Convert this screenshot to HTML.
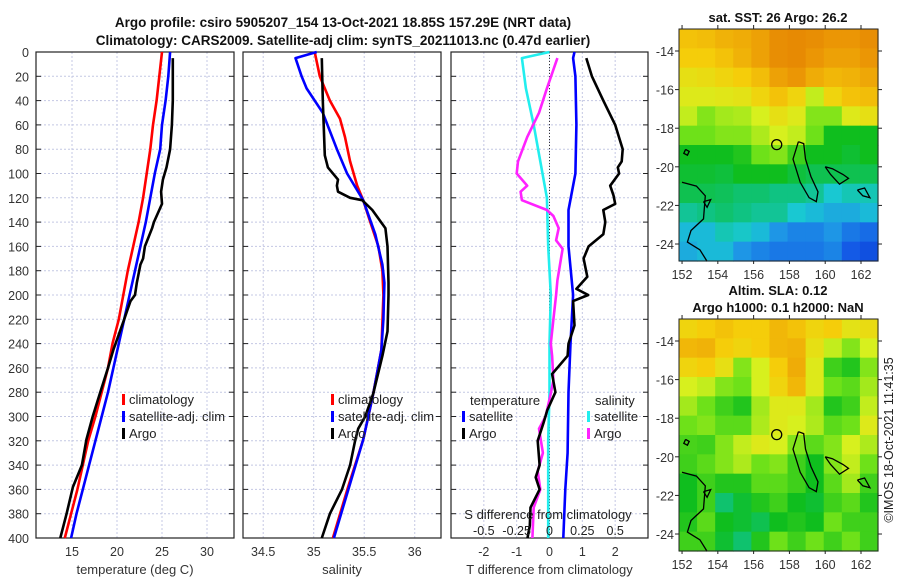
<!DOCTYPE html>
<html><head><meta charset="utf-8"><style>
body{margin:0;background:#fff}
svg{display:block;font-family:"Liberation Sans",sans-serif}
</style></head><body>
<svg id="fig" width="900" height="580" viewBox="0 0 900 580" xmlns="http://www.w3.org/2000/svg">
<rect width="900" height="580" fill="#fff"/>
<text x="343" y="27" text-anchor="middle" font-size="13.5" font-weight="bold" fill="#111">Argo profile: csiro 5905207_154 13-Oct-2021 18.85S 157.29E (NRT data)</text>
<text x="343" y="45" text-anchor="middle" font-size="13.5" font-weight="bold" fill="#111">Climatology: CARS2009. Satellite-adj clim: synTS_20211013.nc (0.47d earlier)</text>
<g id="g"></g>
<text x="778" y="22" text-anchor="middle" font-size="13" font-weight="bold" fill="#111">sat. SST: 26 Argo: 26.2</text>
<text x="778" y="295" text-anchor="middle" font-size="13" font-weight="bold" fill="#111">Altim. SLA: 0.12</text>
<text x="778" y="312" text-anchor="middle" font-size="13" font-weight="bold" fill="#111">Argo h1000: 0.1 h2000: NaN</text>
<text transform="translate(893,440) rotate(-90)" text-anchor="middle" font-size="12.5" fill="#222">©IMOS 18-Oct-2021 11:41:35</text>
</svg>
<script>
// ---- profile data ----
const depthStd=[0,20,40,60,80,100,120,140,160,180,200,220,240,260,280,300,320,340,360,380,400];
const tempClim=[25.0,24.7,24.4,24.0,23.7,23.3,22.9,22.4,21.8,21.2,20.7,20.2,19.5,19.0,18.3,17.6,16.8,16.2,15.6,14.9,14.2];
const tempSat=[25.9,25.7,25.4,25.0,24.8,24.2,23.7,23.2,22.6,22.0,21.4,20.8,20.2,19.6,19.0,18.3,17.6,16.9,16.2,15.5,14.9];
const depthArgoT=[5,20,40,60,80,95,105,115,125,140,145,160,170,175,190,200,205,220,245,260,281,300,319,340,358,380,400];
const tempArgo=[26.2,26.2,26.2,26.1,25.9,25.5,25.1,24.9,25.0,24.1,23.9,23.1,22.9,22.6,22.2,22.0,21.5,20.8,19.6,19.0,18.1,17.3,16.6,16.1,15.1,14.4,13.7];
const depthSClim=[0,20,30,40,55,70,90,110,122,140,160,180,200,245,281,300,319,358,400];
const salClim=[35.01,35.06,35.11,35.16,35.26,35.31,35.36,35.43,35.49,35.56,35.64,35.68,35.69,35.67,35.59,35.54,35.49,35.34,35.19];
const depthSSat=[0,5,20,30,50,80,100,122,150,175,190,220,245,281,300,319,358,400];
const salSat=[35.03,34.82,34.88,34.93,35.09,35.23,35.33,35.49,35.61,35.68,35.70,35.69,35.67,35.59,35.54,35.49,35.35,35.20];
const depthSArgo=[5,40,85,95,105,110,115,120,122,130,145,160,190,200,230,250,281,300,310,320,340,360,380,400];
const salArgo=[35.08,35.09,35.11,35.14,35.24,35.23,35.24,35.36,35.48,35.58,35.71,35.73,35.74,35.74,35.73,35.68,35.59,35.51,35.44,35.41,35.36,35.28,35.16,35.08];
const depthDS=[0,5,30,60,90,120,160,200,240,280,320,360,400];
const dSalSat=[0.0,-0.21,-0.18,-0.12,-0.07,-0.02,-0.01,0.01,0.0,0.0,-0.01,-0.01,-0.01];
const depthDSA=[5,30,50,70,90,100,110,115,122,130,135,145,155,162,188,200,220,240,250,270,281,300,310,330,345,360,375,400];
const dSalArgo=[0.06,-0.02,-0.08,-0.17,-0.24,-0.25,-0.17,-0.22,-0.21,-0.02,0.03,0.07,0.05,0.10,0.06,0.05,0.03,0.01,0.02,0.03,0.01,-0.03,-0.08,-0.05,-0.09,-0.07,-0.12,-0.13];
const depthDT=[0,5,20,60,100,130,160,200,240,280,330,360,400];
const dTempSat=[0.76,0.72,0.79,0.82,0.79,0.58,0.58,0.72,0.64,0.58,0.55,0.48,0.42];
const depthDTA=[5,20,40,60,80,90,95,100,110,118,125,130,140,150,160,170,185,195,200,205,225,240,250,265,280,295,305,320,340,350,360,375,390,400];
const dTempArgo=[1.12,1.29,1.64,2.0,2.23,2.2,2.08,2.12,1.85,1.95,2.0,1.64,1.7,1.64,1.19,1.04,1.15,0.82,1.18,0.72,0.76,0.58,0.55,0.08,0.18,-0.07,-0.18,-0.36,-0.3,-0.42,-0.3,-0.58,-0.6,-0.67];
const depthTicks=[0,20,40,60,80,100,120,140,160,180,200,220,240,260,280,300,320,340,360,380,400];
const tTicks=[15,20,25,30];
const sTicks=[34.5,35,35.5,36];
const dtTicks=[-2,-1,0,1,2];
const dsTicks=[-0.5,-0.25,0,0.25,0.5];
const dsTickLabels=["-0.5","-0.25","0","0.25","0.5"];
// ---- map data (rows lat -13..-25, cols lon 152..163), colour index 0..1 ----
const sstGrid=[
[.82,.83,.85,.86,.88,.92,.93,.92,.9,.9,.92],
[.8,.8,.82,.85,.88,.92,.93,.9,.88,.88,.9],
[.75,.76,.78,.8,.83,.88,.9,.86,.84,.85,.87],
[.72,.72,.73,.74,.78,.82,.78,.68,.78,.82,.83],
[.68,.62,.65,.66,.7,.75,.72,.62,.62,.72,.75],
[.6,.6,.62,.62,.66,.7,.68,.6,.5,.5,.5],
[.5,.5,.5,.52,.6,.62,.55,.5,.5,.48,.5],
[.48,.48,.47,.5,.5,.5,.47,.45,.45,.45,.45],
[.45,.45,.44,.42,.42,.4,.4,.38,.32,.35,.35],
[.38,.4,.42,.4,.38,.38,.32,.3,.28,.28,.3],
[.3,.3,.35,.33,.3,.25,.22,.22,.25,.2,.18],
[.28,.3,.3,.25,.22,.2,.2,.2,.22,.15,.12]];
const slaGrid=[
[.78,.8,.82,.8,.8,.84,.82,.78,.8,.74,.76],
[.84,.85,.8,.78,.8,.84,.85,.75,.68,.62,.7],
[.78,.8,.75,.62,.7,.8,.86,.72,.55,.52,.62],
[.7,.68,.62,.6,.7,.78,.84,.72,.6,.58,.65],
[.65,.6,.55,.52,.65,.72,.72,.65,.52,.55,.68],
[.6,.62,.58,.58,.66,.72,.7,.66,.58,.6,.72],
[.56,.55,.62,.68,.72,.7,.62,.58,.62,.7,.66],
[.55,.58,.62,.66,.6,.62,.55,.5,.62,.68,.6],
[.5,.55,.52,.52,.58,.58,.55,.5,.58,.65,.55],
[.5,.55,.42,.48,.52,.55,.5,.48,.55,.58,.52],
[.52,.58,.5,.48,.45,.5,.52,.5,.6,.55,.55],
[.55,.55,.48,.42,.52,.6,.55,.6,.55,.6,.55]];
const lonTicks=[152,154,156,158,160,162];
const latTicks=[-14,-16,-18,-20,-22,-24];

const NS="http://www.w3.org/2000/svg";
const G=document.getElementById('g');
function mk(tag,attrs,parent){const e=document.createElementNS(NS,tag);for(const k in attrs)e.setAttribute(k,attrs[k]);(parent||G).appendChild(e);return e;}
const Y0=52,Y1=538;
const yD=d=>Y0+(d/400)*(Y1-Y0);
function panel(name,x0,x1,xmin,xmax,ticks,labels,xlabel){
  const xs=v=>x0+(v-xmin)/(xmax-xmin)*(x1-x0);
  const g=mk('g',{});
  
  
  depthTicks.forEach(d=>{const l=mk('line',{x1:x0,x2:x1,y1:yD(d),y2:yD(d),stroke:'#c4c8e4','stroke-width':1,'stroke-dasharray':'2,2'},g);
    
    mk('line',{x1:x0,x2:x0+5,y1:yD(d),y2:yD(d),stroke:'#222'},g);mk('line',{x1:x1-5,x2:x1,y1:yD(d),y2:yD(d),stroke:'#222'},g);});
  ticks.forEach((t,i)=>{const l=mk('line',{x1:xs(t),x2:xs(t),y1:Y0,y2:Y1,stroke:'#c4c8e4','stroke-width':1,'stroke-dasharray':'2,2'},g);
    
    const tx=mk('text',{x:xs(t),y:Y1+18,'text-anchor':'middle','font-size':12.5,fill:'#333'},g);tx.textContent=labels[i];
    });
  const r=mk('rect',{x:x0,y:Y0,width:x1-x0,height:Y1-Y0,fill:'none',stroke:'#222','stroke-width':1.2},g);
  
  if(xlabel){const t=mk('text',{x:(x0+x1)/2,y:Y1+36,'text-anchor':'middle','font-size':13,fill:'#333'},g);t.textContent=xlabel;
    }
  return {xs,g};
}
function line(p,name,ds,vs,color,w){
  const pts=ds.map((d,i)=>p.xs(vs[i]).toFixed(1)+','+yD(d).toFixed(1)).join(' ');
  const l=mk('polyline',{points:pts,fill:'none',stroke:color,'stroke-width':w||2.6,'stroke-linejoin':'round'},p.g);
  
}
function legend(g,x,y,items){
  items.forEach((it,i)=>{mk('rect',{x:x,y:y+i*17-10,width:3,height:11,fill:it[1]},g);
    const t=mk('text',{x:x+7,y:y+i*17,'font-size':13,fill:'#222'},g);t.textContent=it[0];
    });
}
// y tick labels
depthTicks.forEach(d=>{const t=mk('text',{x:29,y:yD(d)+5,'text-anchor':'end','font-size':12.5,fill:'#333'});t.textContent=d;
  });

const p1=panel('temperature-panel',36,234,11,33,tTicks,tTicks.map(String),'temperature (deg C)');
line(p1,'temp-climatology-line',depthStd,tempClim,'#ff0000');
line(p1,'temp-satellite-line',depthStd,tempSat,'#0000ff');
line(p1,'temp-argo-line',depthArgoT,tempArgo,'#000');
legend(p1.g,122,404,[['climatology','#f00'],['satellite-adj. clim','#00f'],['Argo','#000']]);

const p2=panel('salinity-panel',243,441,34.3,36.26,sTicks,sTicks.map(String),'salinity');
line(p2,'sal-climatology-line',depthSClim,salClim,'#ff0000');
line(p2,'sal-satellite-line',depthSSat,salSat,'#0000ff');
line(p2,'sal-argo-line',depthSArgo,salArgo,'#000');
legend(p2.g,331,404,[['climatology','#f00'],['satellite-adj. clim','#00f'],['Argo','#000']]);

const p3=panel('difference-panel',451,648,-3,3,dtTicks,dtTicks.map(String),'T difference from climatology');
mk('line',{x1:p3.xs(0),x2:p3.xs(0),y1:Y0,y2:Y1,stroke:'#333','stroke-dasharray':'1,2'},p3.g);
const p3s={xs:v=>p3.xs(v*4),g:p3.g};
line(p3s,'sal-diff-satellite-line',depthDS,dSalSat,'#22eeee');
line(p3s,'sal-diff-argo-line',depthDSA,dSalArgo,'#ff22ff');
line(p3,'temp-diff-satellite-line',depthDT,dTempSat,'#0000ff');
line(p3,'temp-diff-argo-line',depthDTA,dTempArgo,'#000');
{const t=mk('text',{x:470,y:405,'font-size':13,fill:'#222'},p3.g);t.textContent='temperature';
 
 const s=mk('text',{x:595,y:405,'font-size':13,fill:'#222'},p3.g);s.textContent='salinity';
 }
legend(p3.g,462,421,[['satellite','#00f'],['Argo','#000']]);
legend(p3.g,587,421,[['satellite','#2ee'],['Argo','#f2f']]);
{const t=mk('text',{x:548,y:519,'text-anchor':'middle','font-size':13,fill:'#222'},p3.g);t.textContent='S difference from climatology';
 }
dsTicks.forEach((v,i)=>{const t=mk('text',{x:p3s.xs(v),y:535,'text-anchor':'middle','font-size':12.5,fill:'#222'},p3.g);t.textContent=dsTickLabels[i];
 });

// ---- maps ----
const stops=[[0,[0,40,200]],[0.15,[20,90,230]],[0.25,[30,150,230]],[0.32,[25,200,210]],[0.4,[15,195,130]],[0.5,[15,190,30]],[0.6,[110,225,25]],[0.7,[215,240,30]],[0.8,[245,205,10]],[0.9,[235,150,5]],[1,[220,110,0]]];
function cmap(v){for(let i=1;i<stops.length;i++){if(v<=stops[i][0]){const a=stops[i-1],b=stops[i],f=(v-a[0])/(b[0]-a[0]);
 return 'rgb('+a[1].map((c,k)=>Math.round(c+(b[1][k]-c)*f)).join(',')+')';}}return 'rgb(220,110,0)';}
function map(name,top,grid){
  const L=679,R=878,B=top+232;
  const lx=v=>L+(v-151.83)/(162.95-151.83)*(R-L);
  const ly=v=>top+(-12.86-v)/(24.88-12.86)*(B-top);
  const g=mk('g',{});
  
  
  const rows=grid.length,cols=grid[0].length,cw=(R-L)/cols,ch=(B-top)/rows;
  grid.forEach((row,r)=>row.forEach((v,c)=>{const cell=mk('rect',{x:L+c*cw,y:top+r*ch,width:cw+0.6,height:ch+0.6,fill:cmap(v)},g);
    }));
  // coastlines
  const cs=[[[152,-20.8],[152.8,-21],[153.3,-21.5],[153.2,-22.7],[152.5,-23.3],[152.3,-23.9],[153,-24.3],[153.4,-24.9]],
            [[158.5,-18.7],[158.8,-18.8],[158.9,-19.6],[159.2,-20.5],[159.6,-21.3],[159.5,-21.8],[159.1,-21.6],[158.6,-20.8],[158.2,-19.6],[158.5,-18.7]],
            [[160,-20],[160.4,-20.1],[161,-20.4],[161.3,-20.6],[160.8,-20.9],[160.3,-20.4],[160,-20]],
            [[161.8,-21.2],[162.2,-21.1],[162.5,-21.6],[162.1,-21.5],[161.8,-21.2]],
            [[153.2,-21.8],[153.6,-21.7],[153.4,-22.1],[153.2,-21.8]],
            [[152.2,-19.1],[152.4,-19.2],[152.3,-19.4],[152.1,-19.3],[152.2,-19.1]]];
  cs.forEach(c=>{const p=mk('polyline',{points:c.map(q=>lx(q[0]).toFixed(1)+','+ly(q[1]).toFixed(1)).join(' '),fill:'none',stroke:'#000','stroke-width':1.3},g);
    });
  const pos=mk('circle',{cx:lx(157.29),cy:ly(-18.85),r:5,fill:'none',stroke:'#000','stroke-width':1.3},g);
  
  mk('rect',{x:L,y:top,width:R-L,height:B-top,fill:'none',stroke:'#222','stroke-width':1},g);
  lonTicks.forEach(v=>{mk('line',{x1:lx(v),x2:lx(v),y1:top,y2:top-4,stroke:'#222'},g);mk('line',{x1:lx(v),x2:lx(v),y1:B,y2:B+3,stroke:'#222'},g);
    const t=mk('text',{x:lx(v),y:B+18,'text-anchor':'middle','font-size':12.5,fill:'#333'},g);t.textContent=v;
    });
  latTicks.forEach(v=>{mk('line',{x1:L,x2:L-4,y1:ly(v),y2:ly(v),stroke:'#222'},g);mk('line',{x1:R,x2:R+4,y1:ly(v),y2:ly(v),stroke:'#222'},g);
    const t=mk('text',{x:L-5,y:ly(v)+5,'text-anchor':'end','font-size':12.5,fill:'#333'},g);t.textContent=v;
    });
}
map('sst-map',29,sstGrid);
map('sla-map',319,slaGrid);
</script>
</body></html>
